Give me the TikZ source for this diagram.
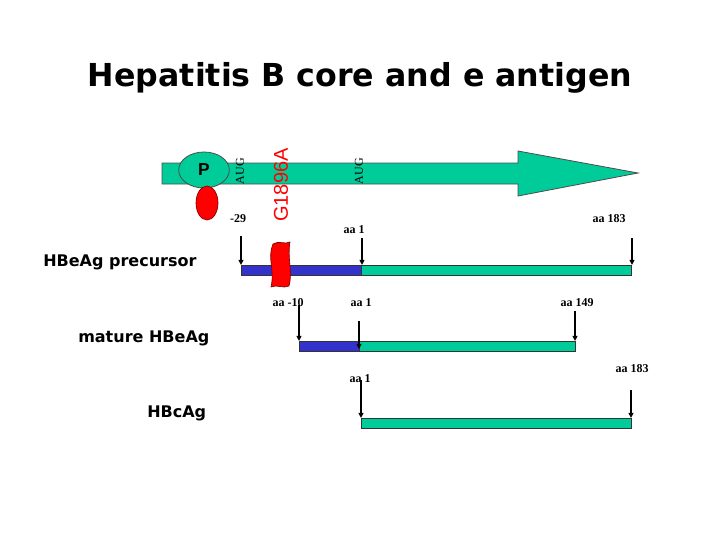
\documentclass[tikz,border=0pt]{standalone}
\usepackage{graphicx}
\usepackage{fontspec}
\setmainfont{Liberation Serif}
\newfontfamily\titlefont{DejaVu Sans}
\newfontfamily\arialfont{Liberation Sans}
\usetikzlibrary{arrows.meta,shapes.geometric}
\definecolor{hbgreen}{RGB}{0,204,153}
\definecolor{hbblue}{RGB}{51,51,204}
\definecolor{hbred}{RGB}{255,0,0}
\begin{document}
\begin{tikzpicture}[x=0.75pt,y=-0.75pt,
  aalabel/.style={font=\bfseries\fontsize{9}{9}\selectfont, inner sep=0pt},
  rowlabel/.style={font=\titlefont\bfseries\fontsize{12}{12}\selectfont, anchor=base west, inner sep=0pt},
  augtext/.style={rotate=90, font=\fontsize{9}{9}\selectfont, inner sep=0pt},
  pointer/.style={line width=1.1pt, -{Triangle[length=3.8pt,width=3.6pt]}},
  greenbar/.style={fill=hbgreen, draw=black!80, line width=0.6pt},
  bluebar/.style={fill=hbblue, draw=black!80, line width=0.6pt}]
\useasboundingbox (0,0) rectangle (720,540);

% title
\node (title) at (360,78) {\resizebox{408pt}{!}{\titlefont\bfseries Hepatitis B core and e antigen}};

% big arrow
\draw[fill=hbgreen, draw=black!70, line width=0.6pt] (162,163) -- (518,163) -- (518,151) -- (638,173) -- (518,196) -- (518,184) -- (162,184) -- cycle;

% P and red ellipse
\node[ellipse, fill=hbgreen, draw=black!70, line width=0.6pt, minimum width=38pt, minimum height=27pt, inner sep=0pt,
  font=\arialfont\bfseries\fontsize{13}{13}\selectfont] (P) at (204,170) {P};
\node[ellipse, fill=hbred, draw=red!50!black, line width=0.5pt, minimum width=16.5pt, minimum height=25.5pt, inner sep=0pt] (blob) at (207,203) {};

\node[augtext] (aug1) at (240,171) {AUG};
\node[augtext] (aug2) at (359,171) {AUG};
\node[rotate=90, text=hbred, inner sep=0pt, font=\arialfont\fontsize{15}{15}\selectfont] (mut) at (281,185) {G1896A};

\node[aalabel] (m29) at (238,219) {-29};
\node[aalabel] (aa1a) at (354,230) {aa 1};
\node[aalabel] (aa183a) at (609,219) {aa 183};

% row labels
\node[rowlabel] (lprec) at (43,266) {HBeAg precursor};
\node[rowlabel] (lmat) at (78,342) {mature HBeAg};
\node[rowlabel] (lcore) at (147,417) {HBcAg};

% precursor bar
\node[bluebar, minimum width=90pt, minimum height=7.5pt, inner sep=0pt, anchor=north west] (pblue) at (241,265) {};
\node[greenbar, minimum width=202.5pt, minimum height=7.5pt, inner sep=0pt, anchor=north west] (pgreen) at (361,265) {};

% red signal peptide
\draw[fill=hbred, draw=red!50!black, line width=0.5pt] (273,244) .. controls (279,240) and (285,245) .. (290,242)
  .. controls (287,258) and (293,272) .. (289,286)
  .. controls (283,289) and (277,284) .. (271,287)
  .. controls (275,270) and (267,258) .. (273,244) -- cycle;

\node[aalabel] (aam10) at (288,303) {aa -10};
\node[aalabel] (aa1b) at (361,303) {aa 1};
\node[aalabel] (aa149) at (577,303) {aa 149};

% mature bar
\node[bluebar, minimum width=45pt, minimum height=7.5pt, inner sep=0pt, anchor=north west] (mblue) at (299,341) {};
\node[greenbar, minimum width=162pt, minimum height=7.5pt, inner sep=0pt, anchor=north west] (mgreen) at (359,341) {};

\node[aalabel] (aa1c) at (360,379) {aa 1};
\node[aalabel] (aa183b) at (632,369) {aa 183};

% core bar
\node[greenbar, minimum width=202.5pt, minimum height=7.5pt, inner sep=0pt, anchor=north west] (cgreen) at (361,418) {};

% pointer coordinates
\coordinate (s1) at (241,236); \coordinate (e1) at (241,265);
\coordinate (s2) at (362,238); \coordinate (e2) at (362,265);
\coordinate (s3) at (632,238); \coordinate (e3) at (632,265);
\coordinate (s4) at (299,305); \coordinate (e4) at (299,341);
\coordinate (s5) at (359,321); \coordinate (e5) at (359,349);
\coordinate (s6) at (575,311); \coordinate (e6) at (575,341);
\coordinate (s7) at (361,380); \coordinate (e7) at (361,418);
\coordinate (s8) at (631,390); \coordinate (e8) at (631,418);
\foreach \i in {1,...,8} { \draw[pointer] (s\i) -- (e\i); }
\end{tikzpicture}
\end{document}
